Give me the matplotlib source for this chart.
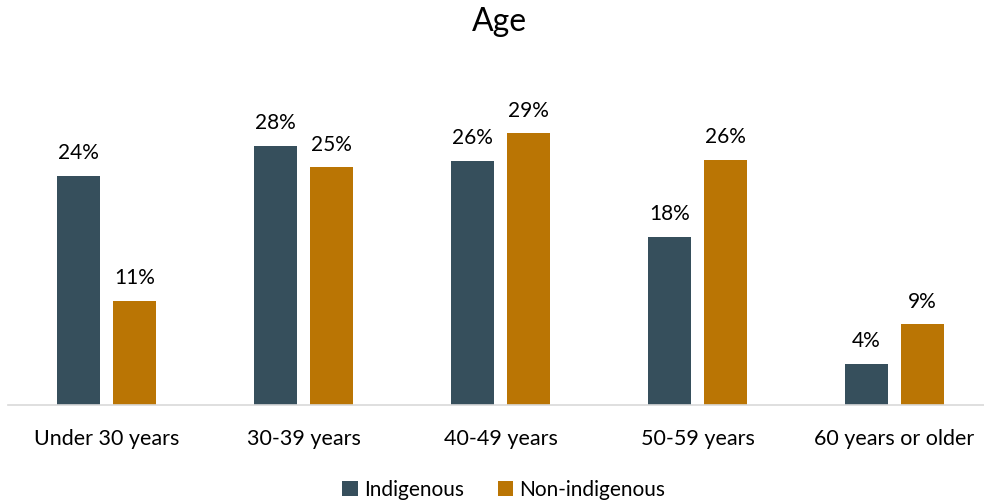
import matplotlib
matplotlib.use("Agg")
import matplotlib.pyplot as plt
import numpy as np

categories = ["Under 30 years", "30-39 years", "40-49 years", "50-59 years", "60 years or older"]
indigenous = [24.4, 27.6, 26.0, 17.9, 4.4]
non_indigenous = [11.1, 25.3, 28.9, 26.1, 8.6]
series_names = ["Indigenous", "Non-indigenous"]
colors = ["#364F5C", "#BA7504"]

plt.rcParams['font.family'] = ['Lato', 'DejaVu Sans']

fig = plt.figure(figsize=(9.84, 5.04), dpi=100)
ax = fig.add_axes([8/984, 99/504, 985/984, 282/504])

x = np.arange(len(categories))
w = 0.223
off = 0.142
b1 = ax.bar(x - off, indigenous, w, color=colors[0], label=series_names[0])
b2 = ax.bar(x + off, non_indigenous, w, color=colors[1], label=series_names[1])

for bars, vals in ((b1, indigenous), (b2, non_indigenous)):
    for r, v in zip(bars, vals):
        ax.annotate(f"{v:.0f}%", (r.get_x() + r.get_width()/2, v),
                    xytext=(0, 9), textcoords="offset points",
                    ha="center", va="bottom", fontsize=15, color="#000000",
                    annotation_clip=False)

ax.set_xlim(-0.5, 4.5)
ax.set_ylim(0, 30)
ax.set_xticks(x)
ax.set_xticklabels(categories, fontsize=15.5)
ax.tick_params(axis='x', length=0, pad=17)
ax.set_yticks([])
for s in ["top", "right", "left"]:
    ax.spines[s].set_visible(False)
ax.spines["bottom"].set_color("#D9D9D9")
ax.spines["bottom"].set_linewidth(1.2)

fig.text(499/984, 1 - 22/504, "Age", ha="center", va="center", fontsize=23)

fig.legend(handles=[b1, b2], loc="center", bbox_to_anchor=(504/984, 1 - 490/504),
           ncol=2, frameon=False, fontsize=15, handlelength=0.75, handleheight=0.75,
           handletextpad=0.3, columnspacing=1.6)

fig.savefig("out.png", dpi=100)
